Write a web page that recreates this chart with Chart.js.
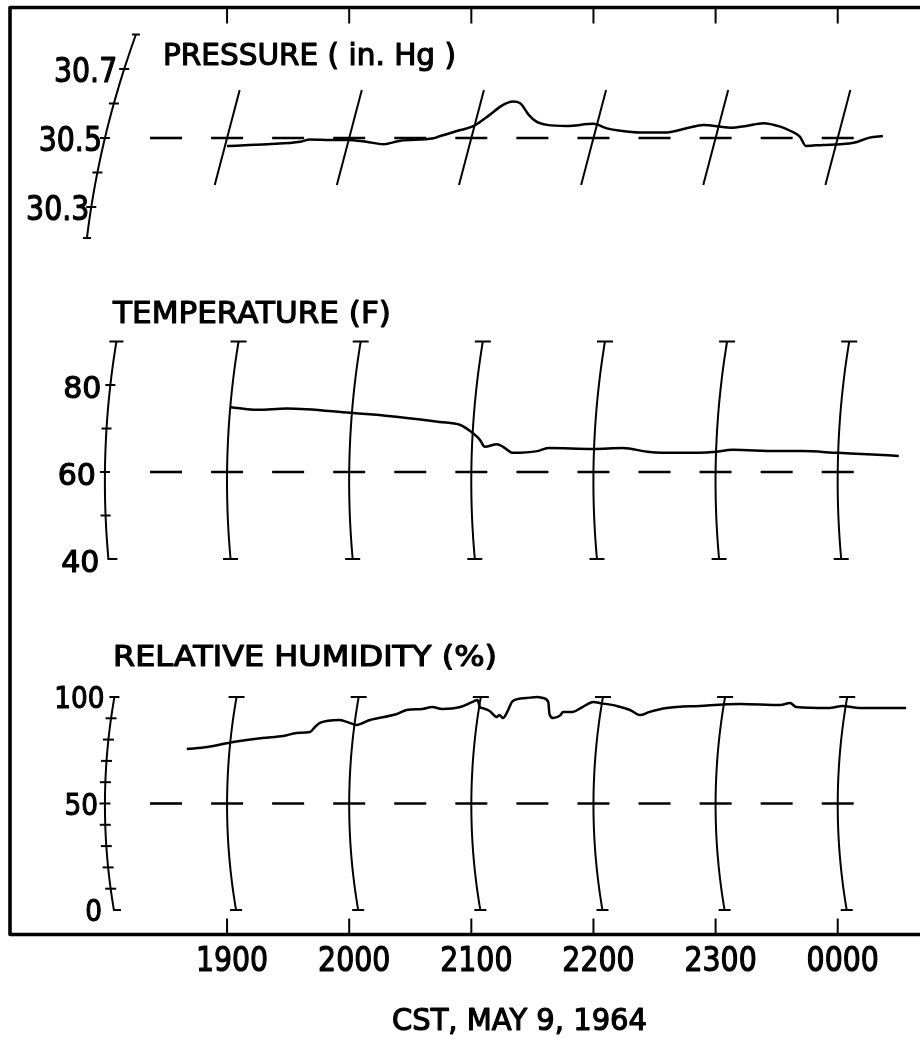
<!DOCTYPE html>
<html>
<head>
<meta charset="utf-8">
<style>
html,body{margin:0;padding:0;background:#fff;}
canvas{display:block;}
</style>
<script src="https://cdn.jsdelivr.net/npm/chart.js@4.4.0/dist/chart.umd.min.js"></script>
</head>
<body>
<canvas id="c" width="920" height="1039"></canvas>
<script>
// ---------------- DATA ----------------
const hourTicks = [19, 20, 21, 22, 23, 24];
const hourLabels = ['1900', '2000', '2100', '2200', '2300', '0000'];
const dashCenters = [18.5, 19, 19.5, 20, 20.5, 21, 21.5, 22, 22.5, 23, 23.5, 24];
const axisHour = 18;
const xTitle = 'CST, MAY 9, 1964';

const pressureTitle = 'PRESSURE ( in. Hg )';
const pressureTickValues = [30.3, 30.4, 30.5, 30.6, 30.7];
const pressureLabelValues = [30.7, 30.5, 30.3];
const pressureLabels = ['30.7', '30.5', '30.3'];
const pressureRef = 30.5;
const pressureTime = [19.00, 19.33, 19.60, 19.68, 19.87, 19.98, 20.14, 20.28, 20.42, 20.69, 20.74, 20.91,
  21.02, 21.15, 21.26, 21.34, 21.40, 21.47, 21.53, 21.62, 21.78, 22.00, 22.11, 22.22, 22.38, 22.60,
  22.76, 22.90, 23.12, 23.25, 23.39, 23.53, 23.61, 23.69, 23.74, 23.88, 24.02, 24.13, 24.26, 24.37];
const pressureValues = [30.477, 30.482, 30.489, 30.496, 30.494, 30.494, 30.489, 30.482, 30.492, 30.499, 30.505, 30.523,
  30.535, 30.567, 30.596, 30.606, 30.601, 30.567, 30.548, 30.538, 30.535, 30.541, 30.528, 30.521, 30.516, 30.516,
  30.528, 30.538, 30.530, 30.535, 30.543, 30.533, 30.521, 30.504, 30.477, 30.480, 30.482, 30.486, 30.501, 30.506];

const tempTitle = 'TEMPERATURE (F)';
const tempTickValues = [40, 50, 60, 70, 80, 90];
const tempLabelValues = [80, 60, 40];
const tempLabels = ['80', '60', '40'];
const tempRef = 60;
const tempTime = [19.03, 19.25, 19.49, 20.01, 20.42, 20.74, 20.91, 20.99, 21.07, 21.11, 21.21, 21.26, 21.34,
  21.54, 21.63, 22.00, 22.24, 22.46, 22.71, 22.98, 23.14, 23.50, 23.71, 24.00, 24.24, 24.50];
const tempValues = [74.9, 74.3, 74.6, 73.6, 72.6, 71.5, 70.8, 69.4, 67.4, 65.8, 66.4, 65.8, 64.4,
  64.8, 65.5, 65.3, 65.5, 64.6, 64.4, 64.6, 65.1, 64.8, 64.8, 64.4, 64.1, 63.7];

const humidTitle = 'RELATIVE HUMIDITY (%)';
const humidTickValues = [0, 10, 20, 30, 40, 50, 60, 70, 80, 90, 100];
const humidLabelValues = [100, 50, 0];
const humidLabels = ['100', '50', '0'];
const humidRef = 50;
const humidTime = [18.67, 18.84, 19.05, 19.29, 19.46, 19.57, 19.68, 19.72, 19.76, 19.92, 19.98, 20.06, 20.17,
  20.39, 20.47, 20.60, 20.68, 20.76, 20.91, 21.01, 21.05, 21.07, 21.09, 21.15, 21.21, 21.23, 21.26, 21.29,
  21.34, 21.45, 21.54, 21.59, 21.63, 21.64, 21.67, 21.73, 21.75, 21.83, 21.91, 22.00, 22.05, 22.19, 22.30,
  22.38, 22.46, 22.60, 22.87, 23.20, 23.53, 23.61, 23.66, 23.93, 24.04, 24.18, 24.34, 24.56];
const humidValues = [75.6, 76.5, 78.9, 80.8, 81.7, 83.1, 83.6, 85.9, 87.8, 89.2, 88.3, 86.9, 89.2,
  92.0, 93.9, 94.4, 95.3, 94.4, 95.3, 97.7, 98.6, 95.3, 94.8, 93.4, 90.6, 91.5, 90.1, 92.5,
  98.1, 99.5, 100.0, 99.5, 97.7, 92.0, 90.1, 91.5, 93.0, 93.0, 95.3, 97.7, 97.2, 95.8, 93.9,
  91.5, 93.0, 94.8, 95.8, 96.7, 96.2, 97.2, 95.3, 94.8, 95.8, 94.8, 94.8, 94.8];

// ---------------- LAYOUT / STYLE ----------------
const INK = '#000';
const FONT = '"DejaVu Sans", "Liberation Sans", sans-serif';
const TEXT_STROKE = 1.2;
const FRAME = { left: 10, top: 7.5, bottom: 934.5, right: 930 };
const PANELS = [
  { id: 'yP', top: 34.5, bottom: 241.5 },
  { id: 'yT', top: 341.5, bottom: 559 },
  { id: 'yH', top: 697, bottom: 910 }
];
const SLANT = 0.263;

function pts(t, v) { return t.map((x, i) => ({ x: x, y: v[i] })); }

function line(c, x1, y1, x2, y2) { c.beginPath(); c.moveTo(x1, y1); c.lineTo(x2, y2); c.stroke(); }

function txt(c, s, x, yc, size, align, k, width) {
  c.save();
  c.font = size + 'px ' + FONT;
  c.textAlign = 'left';
  c.textBaseline = 'alphabetic';
  const m = c.measureText(s).width;
  if (width) k = width / m;
  const w = m * k;
  const x0 = align === 'center' ? x - w / 2 : align === 'right' ? x - w : x;
  c.translate(x0, yc + 0.3645 * size);
  c.scale(k, 1);
  c.lineWidth = TEXT_STROKE;
  c.lineJoin = 'round';
  c.fillText(s, 0, 0);
  c.strokeText(s, 0, 0);
  c.restore();
}

function quad(p) {
  const [[y0, a0], [y1, a1], [y2, a2]] = p;
  return y => a0 * (y - y1) * (y - y2) / ((y0 - y1) * (y0 - y2)) +
              a1 * (y - y0) * (y - y2) / ((y1 - y0) * (y1 - y2)) +
              a2 * (y - y0) * (y - y1) / ((y2 - y0) * (y2 - y1));
}

function curve(c, x0, f, ya, yb) {
  c.beginPath();
  for (let i = 0; i <= 48; i++) {
    const y = ya + (yb - ya) * i / 48;
    const x = x0 + f(y);
    if (i) c.lineTo(x, y); else c.moveTo(x, y);
  }
  c.stroke();
}

function dashes(c, xs, y) {
  c.lineWidth = 2.6;
  dashCenters.forEach(h => { const x = xs.getPixelForValue(h); line(c, x - 16, y, x + 16, y); });
}

const deco = {
  id: 'deco',
  afterLayout(chart) {
    PANELS.forEach(p => {
      const s = chart.scales[p.id];
      s.top = p.top; s.bottom = p.bottom; s.height = p.bottom - p.top;
      s.configure();
    });
  },
  beforeDatasetsDraw(chart) {
    const c = chart.ctx;
    const xs = chart.scales.x;
    c.save();
    c.strokeStyle = INK; c.fillStyle = INK; c.lineCap = 'butt'; c.lineJoin = 'round';

    // frame
    c.lineWidth = 3.6;
    c.beginPath();
    c.moveTo(FRAME.right, FRAME.top); c.lineTo(FRAME.left, FRAME.top);
    c.lineTo(FRAME.left, FRAME.bottom); c.lineTo(FRAME.right, FRAME.bottom);
    c.stroke();

    // time ticks + labels
    c.lineWidth = 2;
    hourTicks.forEach((h, i) => {
      const x = xs.getPixelForValue(h);
      line(c, x, FRAME.top, x, FRAME.top + 16);
      line(c, x, FRAME.bottom - 16, x, FRAME.bottom);
      txt(c, hourLabels[i], x + 5, 958.5, 33, 'center', 0.86);
    });
    c.lineWidth = 2;
    txt(c, xTitle, 519.5, 1019, 30, 'center', 1, 255);

    const ax = xs.getPixelForValue(axisHour);

    // ---- PRESSURE ----
    const yP = chart.scales.yP;
    const pRef = yP.getPixelForValue(pressureRef);
    txt(c, pressureTitle, 163, 54, 30, 'left', 1, 293);
    c.lineWidth = 2;
    const pTop = yP.getPixelForValue(30.639), pBot = yP.getPixelForValue(30.364);
    hourTicks.forEach(h => {
      const x = xs.getPixelForValue(h);
      line(c, x + (pRef - pBot) * SLANT, pBot, x + (pRef - pTop) * SLANT, pTop);
    });
    const pA = yP.getPixelForValue(30.8), pB = yP.getPixelForValue(30.21);
    const fp = quad([[pA, 31], [pRef, 0], [pB, -18]]);
    curve(c, ax, fp, pA, pB);
    line(c, ax + fp(pA) - 4, pA, ax + fp(pA) + 4, pA);
    line(c, ax + fp(pB) - 4, pB, ax + fp(pB) + 4, pB);
    pressureTickValues.forEach(v => { const y = yP.getPixelForValue(v); const x = ax + fp(y); line(c, x - 5, y, x + 5, y); });
    const pGap = [7, 3, 2];
    pressureLabelValues.forEach((v, i) => {
      const y = yP.getPixelForValue(v);
      txt(c, pressureLabels[i], ax + fp(y) - pGap[i], y + 1, 33, 'right', 0.86);
    });
    c.lineWidth = 2;
    dashes(c, xs, pRef);

    // ---- TEMPERATURE ----
    const yT = chart.scales.yT;
    const tRef = yT.getPixelForValue(tempRef);
    const tA = yT.getPixelForValue(90), tB = yT.getPixelForValue(40);
    txt(c, tempTitle, 113, 311.5, 31, 'left', 1, 278);
    const ft = quad([[tA, 11.5], [tRef, 0], [tB, 3.5]]);
    c.lineWidth = 2;
    hourTicks.forEach(h => {
      const x = xs.getPixelForValue(h);
      curve(c, x, ft, tA, tB);
      line(c, x + ft(tA) - 8, tA, x + ft(tA) + 8, tA);
      line(c, x + ft(tB) - 7.5, tB, x + ft(tB) + 7.5, tB);
    });
    curve(c, ax, ft, tA, tB);
    line(c, ax + ft(tA) - 7, tA, ax + ft(tA) + 7, tA);
    line(c, ax + ft(tB) - 1, tB, ax + ft(tB) + 9, tB);
    tempTickValues.slice(1, -1).forEach(v => { const y = yT.getPixelForValue(v); const x = ax + ft(y); line(c, x - 5, y, x + 5, y); });
    tempLabelValues.forEach((v, i) => {
      const y = yT.getPixelForValue(v);
      txt(c, tempLabels[i], ax + ft(y) - 9, y + 2, 30, 'right', 1);
    });
    c.lineWidth = 2;
    dashes(c, xs, tRef);

    // ---- HUMIDITY ----
    const yH = chart.scales.yH;
    const hRef = yH.getPixelForValue(humidRef);
    const hA = yH.getPixelForValue(100), hB = yH.getPixelForValue(0);
    txt(c, humidTitle, 113, 655.5, 29, 'left', 1, 384);
    const fh = quad([[hA, 9.5], [hRef, 0], [hB, 9]]);
    c.lineWidth = 2;
    hourTicks.forEach(h => {
      const x = xs.getPixelForValue(h);
      curve(c, x, fh, hA, hB);
      line(c, x + fh(hA) - 8, hA, x + fh(hA) + 8, hA);
      line(c, x + fh(hB) - 6, hB, x + fh(hB) + 6, hB);
    });
    curve(c, ax, fh, hA, hB);
    line(c, ax + fh(hA) - 5, hA, ax + fh(hA) + 5, hA);
    line(c, ax + fh(hB) - 1, hB, ax + fh(hB) + 7, hB);
    humidTickValues.slice(1, -1).forEach(v => { const y = yH.getPixelForValue(v); const x = ax + fh(y); line(c, x - 5.5, y, x + 5.5, y); });
    const hGap = [10, 7, 12];
    humidLabelValues.forEach((v, i) => {
      const y = yH.getPixelForValue(v);
      txt(c, humidLabels[i], ax + fh(y) - hGap[i], y, 31, 'right', 0.85);
    });
    c.lineWidth = 2;
    dashes(c, xs, hRef);

    c.restore();
  }
};

const traceStyle = {
  borderColor: INK, borderWidth: 2.5, pointRadius: 0, fill: false,
  cubicInterpolationMode: 'monotone', clip: false
};

new Chart(document.getElementById('c'), {
  type: 'line',
  data: {
    datasets: [
      Object.assign({ label: 'Pressure', data: pts(pressureTime, pressureValues), yAxisID: 'yP' }, traceStyle),
      Object.assign({ label: 'Temperature', data: pts(tempTime, tempValues), yAxisID: 'yT' }, traceStyle),
      Object.assign({ label: 'Relative humidity', data: pts(humidTime, humidValues), yAxisID: 'yH' }, traceStyle)
    ]
  },
  options: {
    responsive: false,
    animation: false,
    devicePixelRatio: 1,
    events: [],
    layout: { padding: { left: 166, right: 9, top: 0, bottom: 0 } },
    plugins: { legend: { display: false }, tooltip: { enabled: false }, title: { display: false } },
    scales: {
      x: { type: 'linear', min: 18.5, max: 24.6, display: false },
      yP: { type: 'linear', min: 30.2, max: 30.8, display: false },
      yT: { type: 'linear', min: 40, max: 90, display: false },
      yH: { type: 'linear', min: 0, max: 100, display: false }
    }
  },
  plugins: [deco]
});
</script>
</body>
</html>
